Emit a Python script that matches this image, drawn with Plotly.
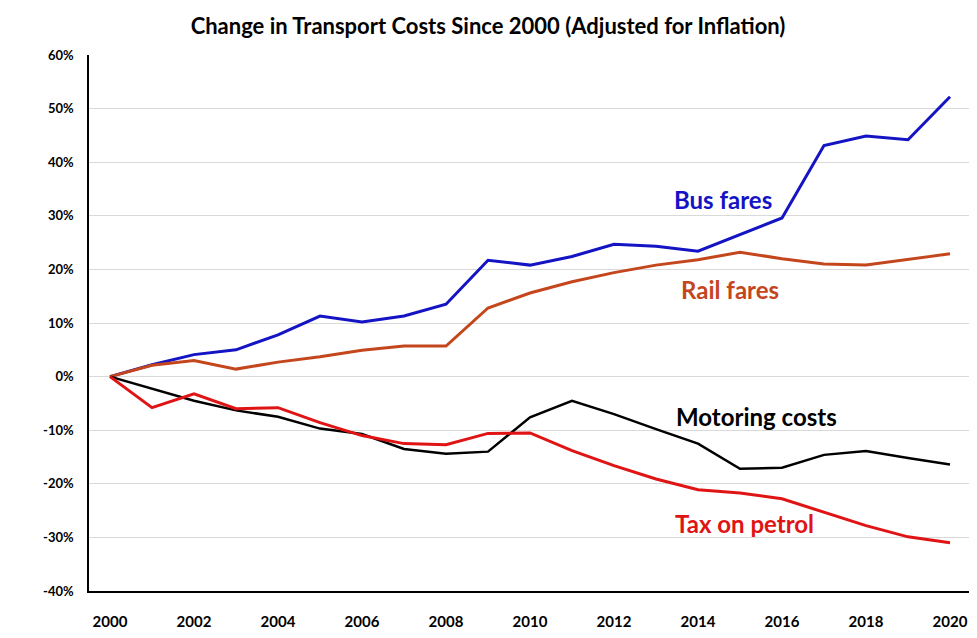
import plotly.graph_objects as go

years = list(range(2000, 2021))
bus_fares = [0, 2.2, 4.1, 5.0, 7.8, 11.3, 10.2, 11.3, 13.5, 21.7, 20.8, 22.4, 24.7, 24.3, 23.4, 26.5, 29.6, 43.1, 44.9, 44.2, 52.2]
rail_fares = [0, 2.1, 3.0, 1.4, 2.7, 3.7, 4.9, 5.7, 5.7, 12.8, 15.6, 17.7, 19.4, 20.8, 21.8, 23.2, 22.0, 21.0, 20.8, 21.9, 22.9]
motoring_costs = [0, -2.3, -4.5, -6.3, -7.5, -9.7, -10.7, -13.5, -14.4, -14.0, -7.6, -4.5, -7.0, -9.8, -12.5, -17.2, -17.0, -14.6, -13.9, -15.2, -16.4]
tax_on_petrol = [0, -5.8, -3.2, -6.0, -5.8, -8.6, -11.0, -12.5, -12.7, -10.6, -10.5, -13.8, -16.6, -19.1, -21.1, -21.7, -22.8, -25.3, -27.8, -29.9, -31.0]

series = [
    ("Bus fares", bus_fares, "#1414C4", 3),
    ("Rail fares", rail_fares, "#C4461C", 3),
    ("Motoring costs", motoring_costs, "#000000", 2.5),
    ("Tax on petrol", tax_on_petrol, "#E01414", 3),
]

labels = [
    ("Bus fares", 2014.6, 33.0, "#1414C4"),
    ("Rail fares", 2014.75, 16.2, "#C4461C"),
    ("Motoring costs", 2015.4, -7.45, "#000000"),
    ("Tax on petrol", 2015.1, -27.4, "#E01414"),
]

FONT = "Lato"

fig = go.Figure()
for name, vals, color, w in series:
    fig.add_trace(go.Scatter(x=years, y=vals, mode="lines", name=name,
                             line=dict(color=color, width=w), showlegend=False))

for text, x, y, color in labels:
    fig.add_annotation(x=x, y=y, text="<b>" + text + "</b>", showarrow=False,
                       font=dict(family=FONT, size=24, color=color),
                       xanchor="center", yanchor="middle")

# page body has an 8px margin, so the figure sits at (8, 8)
W, H = 968, 622
ml, mr, mt, mb = 81, 5, 47, 39

fig.update_layout(
    width=W, height=H,
    margin=dict(l=ml, r=mr, t=mt, b=mb, autoexpand=False),
    paper_bgcolor="white", plot_bgcolor="white",
    title=dict(text="<b>Change in Transport Costs Since 2000 (Adjusted for Inflation)</b>",
               x=480 / W, xanchor="center", xref="container", y=1 - 18 / H, yanchor="middle",
               font=dict(family=FONT, size=22, color="#000000")),
    font=dict(family=FONT, color="#000000"),
    xaxis=dict(range=[1999.5, 2020.5], tickmode="array", tickvals=years[::2],
               ticktext=["<b>%d</b>" % y for y in years[::2]],
               showgrid=False, showline=True, linecolor="#000000", linewidth=1.5,
               ticks="", ticklabelstandoff=16, tickfont=dict(family=FONT, size=15),
               zeroline=False, fixedrange=True, automargin=False),
    yaxis=dict(range=[-40, 60], tickmode="array", tickvals=list(range(-40, 61, 10)),
               ticktext=["<b>%d%%</b>" % v for v in range(-40, 61, 10)],
               showgrid=True, gridcolor="#D9D9D9", gridwidth=1,
               showline=True, linecolor="#000000", linewidth=1.5,
               ticks="", ticklabelstandoff=11, tickfont=dict(family=FONT, size=13),
               zeroline=False, fixedrange=True, automargin=False),
)

fig.write_html("out.html")
